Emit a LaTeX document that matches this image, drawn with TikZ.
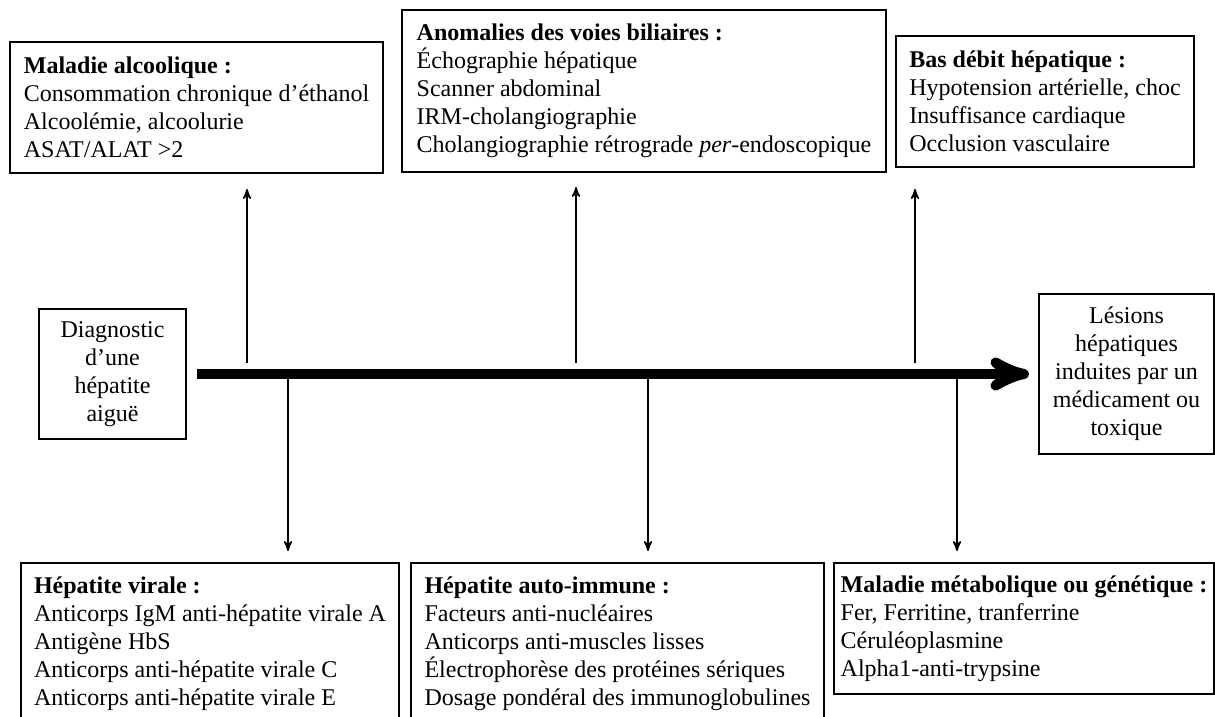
\documentclass[tikz,border=0pt]{standalone}
\usepackage{fontspec}
\setmainfont{Liberation Serif}
\usetikzlibrary{arrows}

\begin{document}
\begin{tikzpicture}[->,>=stealth',thick,x=0.5pt,y=-0.5pt,
                    info box/.style={draw,line width=1pt,anchor=north west,align=left,inner sep=1pt,
                                     font=\fontsize{12}{14}\selectfont},
                    end box/.style={info box,align=center}]

  \useasboundingbox (0,0) rectangle (1215,717);

  % causes du haut
  \node[info box,minimum width=186.5pt,minimum height=65.5pt] (alc) at (9,41)
    {\textbf{Maladie alcoolique :}\\Consommation chronique d'éthanol\\Alcoolémie, alcoolurie\\ASAT/ALAT >2};
  \node[info box,minimum width=242pt,minimum height=81pt] (bil) at (401,9)
    {\textbf{Anomalies des voies biliaires :}\\Échographie hépatique\\Scanner abdominal\\IRM-cholangiographie\\Cholangiographie rétrograde \textit{per}-endoscopique};
  \node[info box,minimum width=149pt,minimum height=65.5pt] (bas) at (895,35)
    {\textbf{Bas débit hépatique :}\\Hypotension artérielle, choc\\Insuffisance cardiaque\\Occlusion vasculaire};

  % debut et fin
  \node[end box,minimum width=73.5pt,minimum height=65pt] (diag) at (38,308)
    {Diagnostic\\d'une\\hépatite\\aiguë};
  \node[end box,minimum width=87.5pt,minimum height=80pt] (lesions) at (1038,293)
    {Lésions\\hépatiques\\induites par un\\médicament ou\\toxique};

  % causes du bas
  \node[info box,minimum width=189pt,minimum height=80.5pt] (vir) at (20,562)
    {\textbf{Hépatite virale :}\\Anticorps IgM anti-hépatite virale A\\Antigène HbS\\Anticorps anti-hépatite virale C\\Anticorps anti-hépatite virale E};
  \node[info box,minimum width=206.5pt,minimum height=80.5pt] (aut) at (410,562)
    {\textbf{Hépatite auto-immune :}\\Facteurs anti-nucléaires\\Anticorps anti-muscles lisses\\Électrophorèse des protéines sériques\\Dosage pondéral des immunoglobulines};
  \node[info box,minimum width=190pt,minimum height=65.5pt] (met) at (833,562)
    {\textbf{Maladie métabolique ou génétique :}\\Fer, Ferritine, tranferrine\\Céruléoplasmine\\Alpha1-anti-trypsine};

  \draw[line width=5pt,shorten <=5pt,shorten >=4.5pt] (diag.east) -- (lesions.west);

  \coordinate (up1) at (247,373);
  \coordinate (up2) at (576,373);
  \coordinate (up3) at (915,373);
  \coordinate (down1) at (288,373);
  \coordinate (down2) at (648,373);
  \coordinate (down3) at (957,373);

\path[shorten <=5pt]
    (up1) edge[shorten >=7.5pt] (up1 |- alc.south)
    (up2) edge[shorten >=7pt] (up2 |- bil.south)
    (up3) edge[shorten >=10.5pt] (up3 |- bas.south);
\path[shorten >=5.5pt]
    (down1) edge (down1 |- vir.north)
    (down2) edge (down2 |- aut.north)
    (down3) edge (down3 |- met.north);
\end{tikzpicture}
\end{document}
